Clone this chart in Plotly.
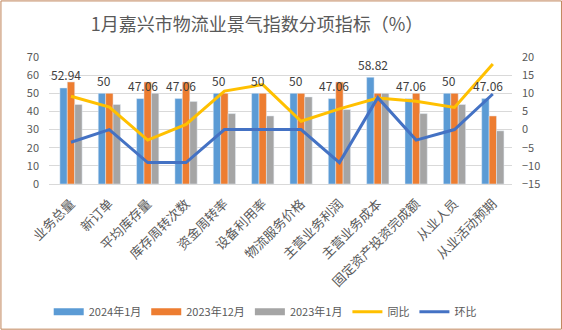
import plotly.graph_objects as go

categories = ["业务总量", "新订单", "平均库存量", "库存周转次数", "资金周转率", "设备利用率",
              "物流服务价格", "主营业务利润", "主营业务成本", "固定资产投资完成额", "从业人员", "从业活动预期"]
jan2024 = [52.94, 50, 47.06, 47.06, 50, 50, 50, 47.06, 58.82, 47.06, 50, 47.06]
dec2023 = [56.25, 50, 56.25, 56.25, 50, 50, 50, 56.25, 50, 50, 50, 37.5]
jan2023 = [43.8, 43.8, 50, 45.5, 38.8, 37.5, 48, 41, 50, 38.8, 43.8, 29.3]
yoy = [9.2, 6.2, -2.9, 1.4, 10.6, 12.4, 2.3, 5.7, 8.7, 7.8, 6.1, 18.1]
mom = [-3.5, 0, -9.1, -9.1, 0, 0, 0, -9.1, 8.8, -2.9, 0, 9.8]

bar_names = ["2024年1月", "2023年12月", "2023年1月"]
bar_colors = ["#5B9BD5", "#ED7D31", "#A5A5A5"]

font_family = "Noto Sans CJK SC"
txt = "#595959"

fig = go.Figure()
for name, vals, col in zip(bar_names, [jan2024, dec2023, jan2023], bar_colors):
    fig.add_trace(go.Bar(name=name, x=categories, y=vals, marker_color=col, showlegend=False))
# legend swatches drawn as wide rectangles like the original
for name, col in zip(bar_names, bar_colors):
    fig.add_trace(go.Scatter(name=name, x=[None], y=[None], mode="lines",
                             line=dict(color=col, width=7)))
fig.add_trace(go.Scatter(name="同比", x=categories, y=yoy, yaxis="y2", mode="lines",
                         line=dict(color="#FFC000", width=3)))
fig.add_trace(go.Scatter(name="环比", x=categories, y=mom, yaxis="y2", mode="lines",
                         line=dict(color="#4472C4", width=3)))

annotations = []
for c, v in zip(categories, jan2024):
    annotations.append(dict(x=c, y=v, xref="x", yref="y", text=f"{v:g}", showarrow=False,
                            xshift=-5, yshift=13, font=dict(size=12, color="#404040", family=font_family)))

L, R, T, B = 48.6, 50, 56.7, 146
pw, ph = 562 - L - R, 330 - T - B

fig.update_layout(
    width=562, height=330,
    margin=dict(l=L, r=R, t=T, b=B, autoexpand=False),
    paper_bgcolor="white", plot_bgcolor="white",
    font=dict(family=font_family, color=txt, size=11),
    title=dict(text="1月嘉兴市物流业景气指数分项指标（%）", x=257 / 562, xref="container",
               y=1 - 25 / 330, yref="container", xanchor="center", yanchor="middle",
               font=dict(size=18, color=txt, family=font_family)),
    barmode="group", bargap=0.42, bargroupgap=0,
    xaxis=dict(tickangle=-45, tickfont=dict(size=13, color=txt), showgrid=False,
               showline=True, linecolor="#D9D9D9", ticks="", ticklabelstandoff=6,
               automargin=False),
    yaxis=dict(range=[0, 70], dtick=10, showgrid=True, gridcolor="#D9D9D9",
               tickfont=dict(size=11, color=txt), zeroline=False, ticklabelstandoff=9,
               automargin=False),
    yaxis2=dict(range=[-15, 20], dtick=5, overlaying="y", side="right", showgrid=False,
                zeroline=False, tickfont=dict(size=11, color=txt), ticklabelstandoff=9,
                automargin=False),
    legend=dict(orientation="h", x=(265 - L) / pw, xanchor="center", y=(184 - 312) / ph,
                yanchor="middle", font=dict(size=11, color=txt), itemwidth=30),
    annotations=annotations,
    shapes=[dict(type="rect", xref="paper", yref="paper",
                 x0=(0.5 - L) / pw, x1=(561.5 - L) / pw,
                 y0=(184 - 329.5) / ph, y1=(184 - 0.5) / ph,
                 line=dict(color="#C0845A", width=1), layer="below")],
)

fig.write_html("out.html")
